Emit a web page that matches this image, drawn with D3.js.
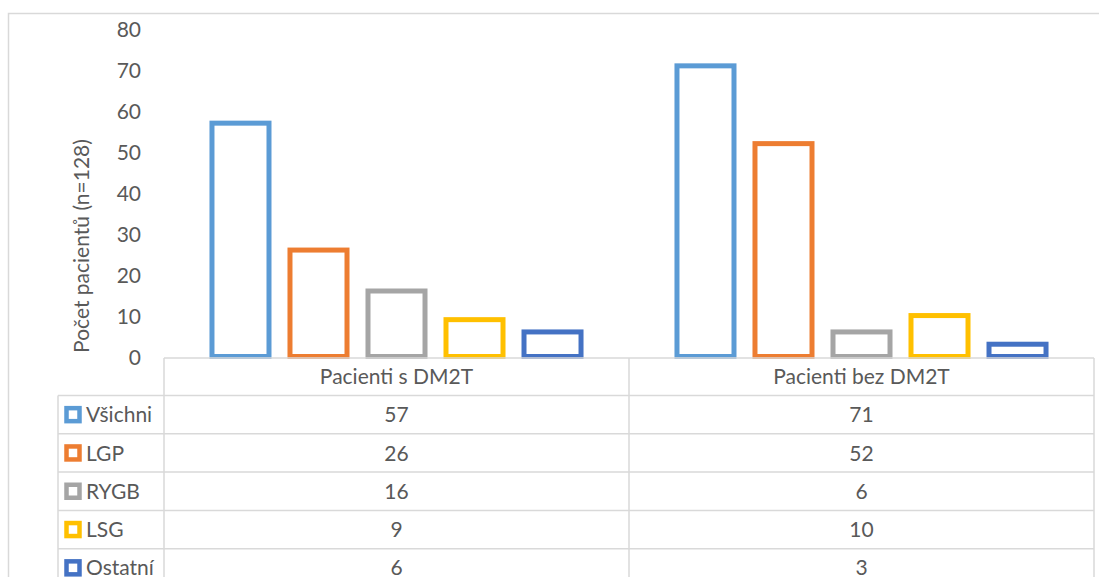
<!DOCTYPE html>
<html>
<head>
<meta charset="utf-8">
<script src="https://cdn.jsdelivr.net/npm/d3@7"></script>
<style>
  body { margin: 0; background: #fff; }
  svg text { font-family: Lato, "Open Sans", sans-serif; fill: #595959; }
</style>
</head>
<body>
<div id="chart"></div>
<script>
var categories = ["Pacienti s DM2T", "Pacienti bez DM2T"];
var series = ["Všichni", "LGP", "RYGB", "LSG", "Ostatní"];
var colors = ["#5B9BD5", "#ED7D31", "#A5A5A5", "#FFC000", "#4472C4"];
var withDM2T = [57, 26, 16, 9, 6];
var withoutDM2T = [71, 52, 6, 10, 3];
var yTicks = [0, 10, 20, 30, 40, 50, 60, 70, 80];
var yTitle = "Počet pacientů (n=128)";

var values = [withDM2T, withoutDM2T];

var width = 1099,
    height = 577,
    plotLeft = 164,
    plotRight = 1094,
    tableTop = 358,
    headerH = 37.5,
    rowH = 38.3,
    legendLeft = 58,
    gridColor = "#d9d9d9";

var svg = d3.select("#chart")
    .append("svg")
      .attr("width", width)
      .attr("height", height);

// chart frame
svg.append("rect")
    .attr("x", 8.5)
    .attr("y", 13.5)
    .attr("width", width + 20)
    .attr("height", height + 20)
    .style("fill", "none")
    .style("stroke", gridColor)
    .style("stroke-width", 1.5);

var x0 = d3.scaleBand()
    .domain(categories)
    .range([plotLeft, plotRight]);

var x1 = d3.scaleBand()
    .domain(series)
    .range([0, x0.bandwidth()])
    .paddingInner(0.205)
    .paddingOuter(0.583);

var y = d3.scaleLinear()
    .domain([0, 80])
    .range([356.5, 29]);

var color = d3.scaleOrdinal().domain(series).range(colors);

// y axis labels
var yAxis = d3.axisLeft(y).tickValues(yTicks).tickSize(0).tickPadding(0);
var gy = svg.append("g")
    .attr("transform", "translate(141,0)")
    .call(yAxis);
gy.select(".domain").remove();
gy.selectAll("text")
    .style("font-family", "Lato, sans-serif")
    .style("font-size", "21px")
    .style("fill", "#595959")
    .attr("dy", "0.36em");

svg.append("text")
    .attr("transform", "translate(80," + 246 + ") rotate(-90)")
    .attr("text-anchor", "middle")
    .attr("dominant-baseline", "central")
    .style("font-size", "21px")
    .text(yTitle);

// bars
var groups = svg.selectAll("g.cat")
    .data(categories)
    .enter().append("g")
      .attr("class", "cat")
      .attr("transform", function(d) { return "translate(" + x0(d) + ",0)"; });

groups.selectAll("rect")
    .data(function(d, i) {
        return series.map(function(s, j) { return {s: s, v: values[i][j]}; });
    })
    .enter().append("rect")
      .attr("x", function(d) { return x1(d.s) + 2.5; })
      .attr("width", x1.bandwidth() - 5)
      .attr("y", function(d) { return y(d.v); })
      .attr("height", function(d) { return y(0) - y(d.v); })
      .style("fill", "#fff")
      .style("stroke", function(d) { return color(d.s); })
      .style("stroke-width", 5);

// data table
var rows = d3.scaleBand()
    .domain(series)
    .range([tableTop + headerH, tableTop + headerH + rowH * series.length]);

var grid = svg.append("g")
    .style("stroke", gridColor)
    .style("stroke-width", 1.5);

grid.append("line")
    .attr("x1", plotLeft).attr("x2", plotRight)
    .attr("y1", tableTop).attr("y2", tableTop);

grid.selectAll("line.row")
    .data(series)
    .enter().append("line")
      .attr("class", "row")
      .attr("x1", legendLeft).attr("x2", plotRight)
      .attr("y1", function(d) { return rows(d); })
      .attr("y2", function(d) { return rows(d); });

grid.append("line")
    .attr("x1", legendLeft).attr("x2", legendLeft)
    .attr("y1", tableTop + headerH).attr("y2", height);

grid.selectAll("line.col")
    .data(categories.concat(["end"]))
    .enter().append("line")
      .attr("class", "col")
      .attr("x1", function(d) { return d === "end" ? plotRight : x0(d); })
      .attr("x2", function(d) { return d === "end" ? plotRight : x0(d); })
      .attr("y1", tableTop).attr("y2", height);

// header labels
svg.selectAll("text.cat")
    .data(categories)
    .enter().append("text")
      .attr("class", "cat")
      .attr("x", function(d) { return x0(d) + x0.bandwidth() / 2; })
      .attr("y", tableTop + headerH / 2)
      .attr("text-anchor", "middle")
      .attr("dy", "0.36em")
      .style("font-size", "21px")
      .text(function(d) { return d; });

// legend keys + names
var legend = svg.selectAll("g.leg")
    .data(series)
    .enter().append("g")
      .attr("class", "leg")
      .attr("transform", function(d) { return "translate(0," + (rows(d) + rows.bandwidth() / 2) + ")"; });

legend.append("rect")
    .attr("x", 66.5)
    .attr("y", -6.5)
    .attr("width", 13)
    .attr("height", 13)
    .style("fill", "#fff")
    .style("stroke", function(d) { return color(d); })
    .style("stroke-width", 4.5);

legend.append("text")
    .attr("x", 86)
    .attr("dy", "0.36em")
    .style("font-size", "21px")
    .text(function(d) { return d; });

// values
categories.forEach(function(c, i) {
    svg.selectAll("text.val" + i)
        .data(values[i])
        .enter().append("text")
          .attr("class", "val" + i)
          .attr("x", x0(c) + x0.bandwidth() / 2)
          .attr("y", function(d, j) { return rows(series[j]) + rows.bandwidth() / 2; })
          .attr("text-anchor", "middle")
          .attr("dy", "0.36em")
          .style("font-size", "21px")
          .text(function(d) { return d; });
});
</script>
</body>
</html>
